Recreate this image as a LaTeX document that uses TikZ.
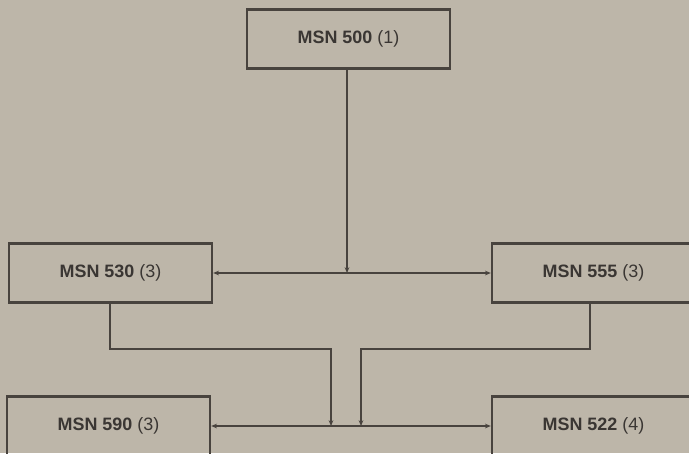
\documentclass[tikz,border=0pt]{standalone}
\usepackage{fontspec}
\setmainfont{Liberation Sans}
\usetikzlibrary{arrows.meta}
\definecolor{paper}{RGB}{189,182,169}
\definecolor{ink}{RGB}{72,67,62}
\definecolor{textink}{RGB}{58,54,51}
\begin{document}
\begin{tikzpicture}[
  msnbox/.style={draw=ink, line width=2pt, minimum width=6.09cm, minimum height=1.77cm,
    text=textink, font=\fontsize{15.3}{18}\selectfont},
  link/.style={draw=ink, line width=1.3pt},
  tip/.style={-{Stealth[length=5pt, width=4pt]}},
]
  % paper
  \fill[paper] (0,0) rectangle (20.67,-13.59);
  \useasboundingbox (0,0) rectangle (20.67,-13.59);
  \clip (0,0) rectangle (20.67,-13.59);

  % boxes
  \node[msnbox] (m500) at (10.455, -1.17) {\textbf{MSN 500} (1)};
  \node[msnbox] (m530) at (3.315, -8.19) {\textbf{MSN 530} (3)};
  \node[msnbox] (m555) at (17.805, -8.19) {\textbf{MSN 555} (3)};
  \node[msnbox] (m590) at (3.255, -12.78) {\textbf{MSN 590} (3)};
  \node[msnbox] (m522) at (17.805, -12.78) {\textbf{MSN 522} (4)};

  % bends
  \coordinate (j500) at (10.41, -8.19);
  \coordinate (k530) at (3.3, -10.47);
  \coordinate (k555) at (17.7, -10.47);
  \coordinate (d530) at (9.93, -10.47);
  \coordinate (d555) at (10.83, -10.47);

  % top level
  \draw[link, tip] (m500.south -| j500) -- (j500);
  \draw[link, tip] (j500) -- (m530.east);
  \draw[link, tip] (j500) -- (m555.west);

  % second level
  \draw[link, tip] (m530.south -| k530) -- (k530) -- (d530) -- (d530 |- m590.east);
  \draw[link, tip] (m555.south -| k555) -- (k555) -- (d555) -- (d555 |- m522.west);
  \draw[link, tip] (d530 |- m590.east) -- (m590.east);
  \draw[link, tip] (d555 |- m522.west) -- (m522.west);
  \draw[link] (d530 |- m590.east) -- (d555 |- m522.west);
\end{tikzpicture}
\end{document}
